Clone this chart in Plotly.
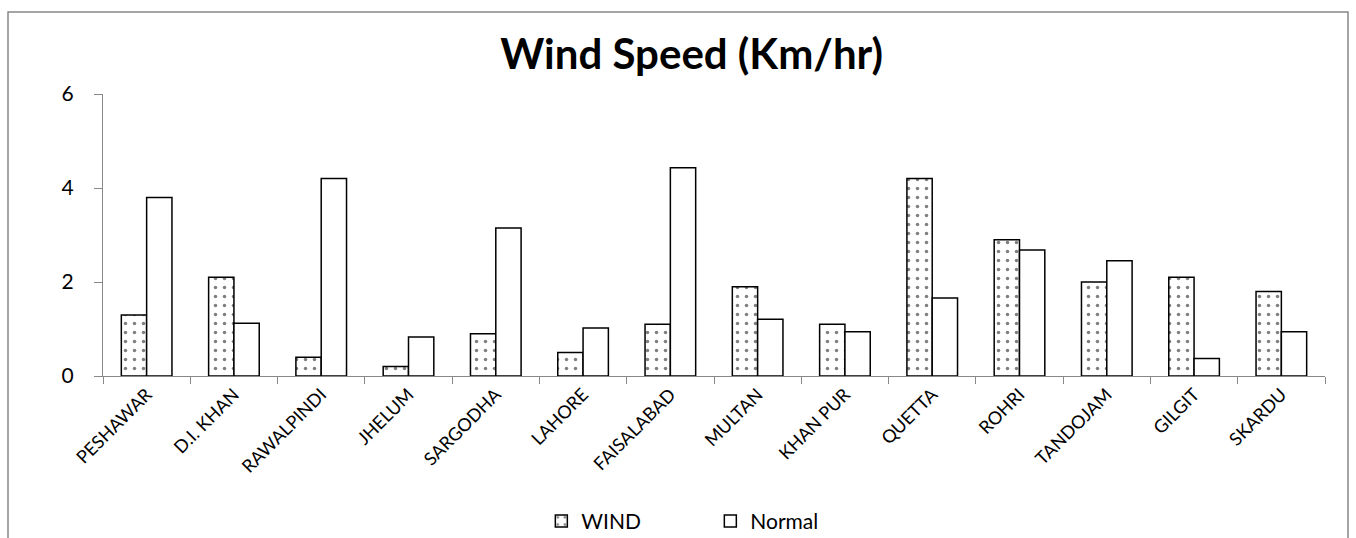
import plotly.graph_objects as go

stations = ["PESHAWAR", "D.I. KHAN", "RAWALPINDI", "JHELUM", "SARGODHA", "LAHORE",
            "FAISALABAD", "MULTAN", "KHAN PUR", "QUETTA", "ROHRI", "TANDOJAM", "GILGIT", "SKARDU"]
wind = [1.3, 2.1, 0.4, 0.2, 0.9, 0.5, 1.1, 1.9, 1.1, 4.2, 2.9, 2.0, 2.1, 1.8]
normal = [3.8, 1.12, 4.2, 0.83, 3.15, 1.02, 4.43, 1.21, 0.94, 1.66, 2.68, 2.45, 0.37, 0.94]

FONT = "Lato"

fig = go.Figure()
fig.add_trace(go.Bar(
    x=stations, y=wind, name="WIND",
    marker=dict(color="white", line=dict(color="black", width=1.5),
                pattern=dict(shape=".", fgcolor="black", bgcolor="white", size=9, solidity=0.12)),
))
fig.add_trace(go.Bar(
    x=stations, y=normal, name="Normal",
    marker=dict(color="white", line=dict(color="black", width=1.5)),
))

fig.update_layout(
    width=1356, height=538,
    margin=dict(l=103, r=31, t=94, b=162, autoexpand=False),
    paper_bgcolor="white", plot_bgcolor="white",
    barmode="group", bargap=0.42, bargroupgap=0,
    font=dict(family=FONT, color="black"),
    title=dict(text="<b>Wind Speed (Km/hr)</b>", x=0.51, xanchor="center",
               y=0.9, yanchor="middle", font=dict(size=42, family=FONT)),
    showlegend=True,
    legend=dict(orientation="h", x=0.497, xanchor="center", y=-0.515, yanchor="middle",
                font=dict(size=21), itemwidth=30, traceorder="normal",
                entrywidth=124),
    xaxis=dict(showline=True, linecolor="#888", linewidth=1, ticks="outside",
               tickson="boundaries", tickcolor="#888", ticklen=7, tickangle=-45,
               tickfont=dict(size=18), showgrid=False, automargin=False),
    yaxis=dict(range=[0, 6], dtick=2, showline=True, linecolor="#888", linewidth=1,
               ticks="outside", tickcolor="#888", ticklen=8, showgrid=False,
               ticklabelstandoff=16,
               tickfont=dict(size=21), zeroline=False, automargin=False),
    shapes=[dict(type="rect", xref="paper", yref="paper",
                 x0=(8 - 103) / 1222, x1=(1348 - 103) / 1222,
                 y0=(376 - 545) / 282, y1=(376 - 12) / 282,
                 line=dict(color="#888", width=1.5), fillcolor="rgba(0,0,0,0)", layer="below")],
)

fig.write_html("out.html")
